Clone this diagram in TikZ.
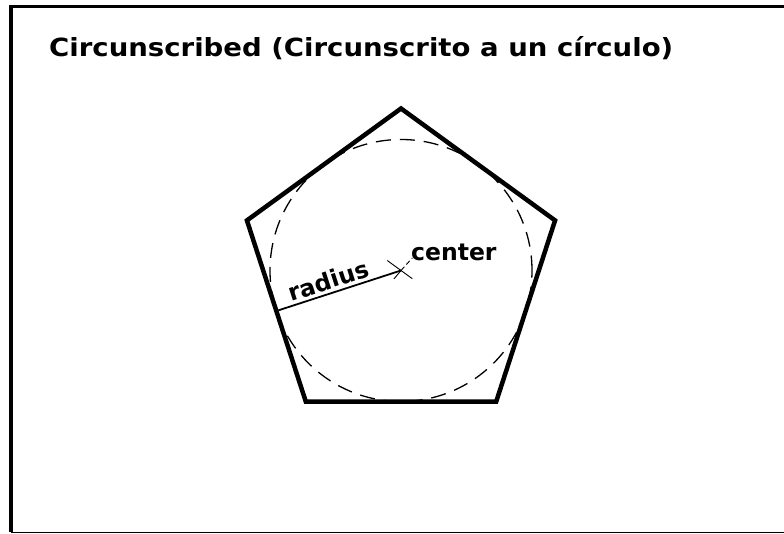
\documentclass[tikz,border=0pt]{standalone}
\usepackage{fontspec}
\usepackage{graphicx}
\setmainfont{DejaVu Sans}
\usetikzlibrary{calc}
\begin{document}
\begin{tikzpicture}[x=1pt,y=1pt,
  pent/.style={line width=4.5pt,line join=miter},
  incircle/.style={line width=1.3pt,dash pattern=on 15pt off 9pt},
  radline/.style={line width=1.8pt},
  crossline/.style={line width=0.9pt},
  titletext/.style={font=\bfseries\fontsize{25}{30}\selectfont,inner sep=0pt,anchor=base west},
  labeltext/.style={font=\bfseries\fontsize{23.5}{28}\selectfont,inner sep=0pt}]
\useasboundingbox (0,0) rectangle (784,534);
% frame (open on the right)
\coordinate (ftr) at (790,527);
\coordinate (ftl) at (11,527);
\coordinate (fbl) at (11,1.5);
\coordinate (fbr) at (790,1.5);
\draw[line width=3pt] (ftr) -- (ftl);
\draw[line width=4pt] ($(ftl)+(0,1.5)$) -- (fbl);
\draw[line width=1.5pt] (fbl) -- (fbr);
% title
\node[titletext] (title) at (49,477.3) {\resizebox{624pt}{\height}{Circunscribed (Circunscrito a un círculo)}};
% geometry
\coordinate (c) at (401,263.5);
\coordinate (v1) at ($(c)+(90:162)$);
\coordinate (v2) at ($(c)+(162:162)$);
\coordinate (v3) at ($(c)+(234:162)$);
\coordinate (v4) at ($(c)+(306:162)$);
\coordinate (v5) at ($(c)+(18:162)$);
\draw[incircle] (c) circle[radius=131];
\draw[pent] (v1) -- (v2) -- (v3) -- (v4) -- (v5) -- cycle;
% radius
\coordinate (foot) at ($(c)+(198:129)$);
\draw[radline] (foot) -- node[labeltext,pos=0.44,sloped,above,yshift=3pt] (radlabel) {radius} (c);
% center mark
\draw[crossline] ($(c)+(144:17)$) -- ($(c)+(-36:14)$);
\draw[crossline] ($(c)+(-130:11)$) -- (c);
\draw[crossline,dash pattern=on 5pt off 3pt] (c) -- ($(c)+(48:17)$);
\node[labeltext,anchor=base west] (clabel) at (411,273) {center};
\end{tikzpicture}
\end{document}
